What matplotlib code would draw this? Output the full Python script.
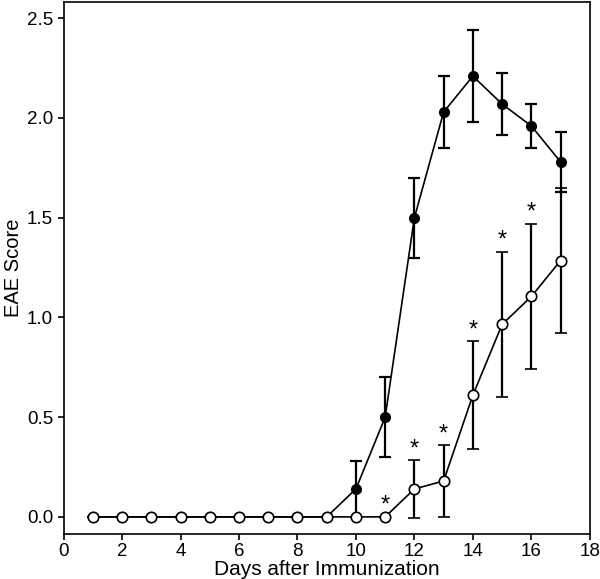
import matplotlib
matplotlib.use("Agg")
import matplotlib.pyplot as plt

plt.rcParams['font.family'] = ['Liberation Sans', 'DejaVu Sans']

days = [1, 2, 3, 4, 5, 6, 7, 8, 9, 10, 11, 12, 13, 14, 15, 16, 17]
filled_mean = [0, 0, 0, 0, 0, 0, 0, 0, 0, 0.14, 0.50, 1.50, 2.03, 2.21, 2.07, 1.96, 1.78]
filled_err = [0, 0, 0, 0, 0, 0, 0, 0, 0, 0.14, 0.20, 0.20, 0.18, 0.23, 0.155, 0.11, 0.15]
open_mean = [0, 0, 0, 0, 0, 0, 0, 0, 0, 0, 0, 0.14, 0.18, 0.61, 0.965, 1.105, 1.285]
open_err = [0, 0, 0, 0, 0, 0, 0, 0, 0, 0, 0, 0.145, 0.18, 0.27, 0.365, 0.365, 0.365]
star_days = [11, 12, 13, 14, 15, 16]

fig = plt.figure(figsize=(6.0, 5.79), dpi=100)
ax = fig.add_axes([0.106, 0.078, 0.877, 0.918])

ax.errorbar(days, filled_mean, yerr=filled_err, color='black', marker='o',
            markersize=7, markerfacecolor='black', markeredgecolor='black',
            linewidth=1.2, elinewidth=1.6, capsize=4, capthick=1.6, zorder=3)
ax.errorbar(days, open_mean, yerr=open_err, color='black', marker='o',
            markersize=7.5, markerfacecolor='white', markeredgecolor='black',
            markeredgewidth=1.2, linewidth=1.2, elinewidth=1.6, capsize=4,
            capthick=1.6, zorder=4)

for d in star_days:
    i = days.index(d)
    top = open_mean[i] + open_err[i]
    ax.text(d, top, '*', ha='center', va='bottom', fontsize=17)

ax.set_xlim(0, 18)
ax.set_ylim(-0.085, 2.58)
ax.set_xticks(range(0, 19, 2))
ax.set_yticks([0.0, 0.5, 1.0, 1.5, 2.0, 2.5])
ax.set_yticklabels(['0.0', '0.5', '1.0', '1.5', '2.0', '2.5'])
ax.tick_params(direction='out', length=4.5, width=1.2, labelsize=13.5, pad=3)
ax.tick_params(axis='x', pad=2)
ax.tick_params(top=False, right=False)
for s in ax.spines.values():
    s.set_linewidth(1.2)
ax.set_xlabel('Days after Immunization', fontsize=15, labelpad=0)
ax.set_ylabel('EAE Score', fontsize=14.5, labelpad=3)

fig.savefig('out.png', dpi=100)
